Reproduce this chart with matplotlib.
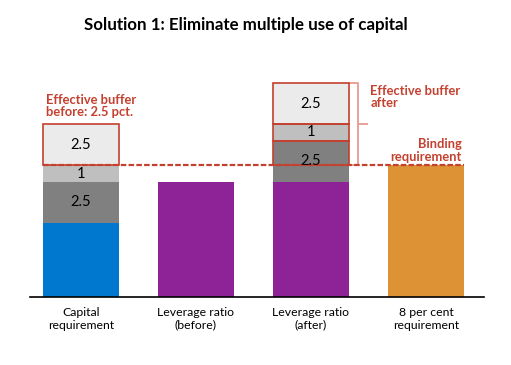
import numpy as np
import matplotlib
matplotlib.use('Agg')
import matplotlib.pyplot as plt
from matplotlib.patches import Rectangle

plt.rcParams['font.family'] = ['Lato', 'DejaVu Sans']

# Data
categories = ['Capital\nrequirement', 'Leverage ratio\n(before)', 'Leverage ratio\n(after)', '8 per cent\nrequirement']
base_values = [4.5, 7, 7, 8]
base_colors = ['#0078CF', '#8E2398', '#8E2398', '#DD9235']
buf_dark = [2.5, 0, 2.5, 0]
buf_mid = [1, 0, 1, 0]
buf_light = [2.5, 0, 2.5, 0]
binding_level = 8

RED = '#C4402F'
x = np.arange(len(categories))
w = 0.665

fig = plt.figure(figsize=(5.11, 3.65), dpi=100)
ax = fig.add_axes([30/511, (365-297)/365, 454/511, 237/365])
ax.set_xlim(-0.443, 3.505)
ax.set_ylim(0, 237/16.46)

ax.bar(x, base_values, width=w, color=base_colors, zorder=2)

bottom = np.array(base_values, dtype=float)
layers = [(buf_dark, '#808080'), (buf_mid, '#BFBFBF'), (buf_light, '#EBEBEB')]
for vals, col in layers:
    for i, v in enumerate(vals):
        if v == 0:
            continue
        ax.bar(x[i], v, width=w, bottom=bottom[i], color=col, zorder=2)
        # red outline on the part above the binding level
        lo = max(bottom[i], binding_level)
        hi = bottom[i] + v
        if hi > lo and (bottom[i] >= binding_level or i == 2):
            ax.add_patch(Rectangle((x[i] - w/2, lo), w, hi - lo, fill=False,
                                   edgecolor=RED, linewidth=1.2, zorder=3))
        ax.text(x[i], bottom[i] + v / 2, '{:g}'.format(v), ha='center', va='center',
                fontsize=10.5, color='black', zorder=4)
    bottom = bottom + np.array(vals)

# binding requirement line
ax.plot([x[0] - w/2, x[3] + w/2], [binding_level, binding_level], color=RED,
        linestyle=(0, (2.5, 1)), linewidth=1.6, zorder=3)

# bracket next to bar 3
top3 = bottom[2]
bx = x[2] + 0.413
ax.plot([x[2] + w/2, bx, bx, x[2] + w/2], [top3, top3, binding_level, binding_level],
        color='#E8A298', linewidth=1.4, zorder=1)
ax.plot([bx, x[2] + 0.49], [(top3 + binding_level) / 2] * 2, color='#E8A298', linewidth=1.4)

ax.text(x[2] + 0.517, top3 - 0.12, 'Effective buffer\nafter', ha='left', va='top',
        fontsize=9.3, fontweight='bold', color=RED, linespacing=1.05)
ax.text(x[0] - w/2 + 0.03, bottom[0] + 0.35, 'Effective buffer\nbefore: 2.5 pct.', ha='left',
        va='bottom', fontsize=9.3, fontweight='bold', color=RED, linespacing=1.05)
ax.text(x[3] + w/2 - 0.02, binding_level + 0.15, 'Binding\nrequirement', ha='right',
        va='bottom', fontsize=9.3, fontweight='bold', color=RED, linespacing=1.05)

ax.set_xticks(x)
ax.set_xticklabels(categories, fontsize=8.8, linespacing=1.2)
ax.tick_params(axis='x', length=0, pad=7)
ax.set_yticks([])
for s in ['top', 'right', 'left']:
    ax.spines[s].set_visible(False)
ax.spines['bottom'].set_linewidth(1.2)
ax.spines['bottom'].set_zorder(5)

fig.text(246/511, 1 - 25/365, 'Solution 1: Eliminate multiple use of capital', ha='center',
         va='center', fontsize=12.2, fontweight='bold')

fig.savefig('out.png', dpi=100)
